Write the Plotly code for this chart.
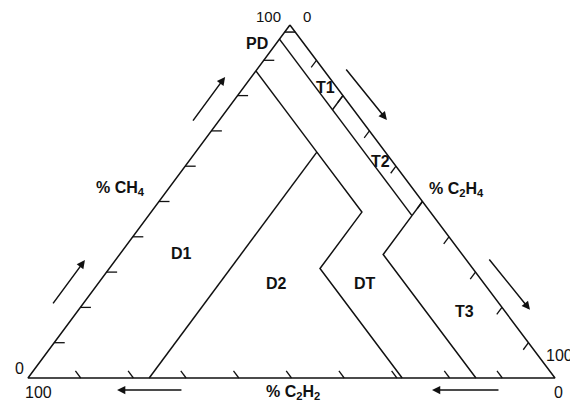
import plotly.graph_objects as go

# Duval triangle 1, every point is (CH4, C2H2, C2H4) in %
APEX_X = 0.497  # horizontal position of the CH4 corner, as a share of the base

EDGE = [(100, 0, 0), (0, 100, 0), (0, 0, 100), (100, 0, 0)]
PD_LINE = [(98, 2, 0), (98, 0, 2)]
T1_T2 = [(80, 0, 20), (76, 4, 20)]
C2H2_4 = [(96, 4, 0), (46, 4, 50)]
T2_T3 = [(50, 0, 50), (46, 4, 50)]
DT_T3 = [(46, 4, 50), (35, 15, 50), (0, 15, 85)]
D1_TOP = [(87, 13, 0), (64, 13, 23)]
D1_D2 = [(64, 13, 23), (0, 77, 23)]
D2_DT = [(64, 13, 23), (47, 13, 40), (31, 29, 40), (0, 29, 71)]

TICKS = [10, 20, 30, 40, 50, 60, 70, 80, 90]
TICK_LEN = 2

ZONE_NAMES = ["PD", "T1", "T2", "D1", "D2", "DT", "T3"]
AXIS_NAMES = ["% CH<sub>4</sub>", "% C<sub>2</sub>H<sub>4</sub>", "% C<sub>2</sub>H<sub>2</sub>"]
END_LABELS = ["100", "0", "0", "100", "0", "100"]


def to_xy(points):
    xs, ys = [], []
    for ch4, c2h2, c2h4 in points:
        total = ch4 + c2h2 + c2h4
        xs.append((ch4 * APEX_X + c2h4) / total)
        ys.append(ch4 / total)
    return xs, ys


def tick_segments():
    segs = []
    for t in TICKS:
        segs.append([(t, 100 - t, 0), (t, 100 - t - TICK_LEN, TICK_LEN)])
        segs.append([(100 - t, 0, t), (100 - t - TICK_LEN, TICK_LEN, t)])
        segs.append([(0, t, 100 - t), (TICK_LEN, t, 100 - t - TICK_LEN)])
    return segs


fig = go.Figure()
line_style = {"color": "#111111", "width": 1.5}
for pts in [EDGE, PD_LINE, T1_T2, C2H2_4, T2_T3, DT_T3, D1_TOP, D1_D2, D2_DT]:
    xs, ys = to_xy(pts)
    fig.add_trace(go.Scatter(x=xs, y=ys, mode="lines", line=line_style,
                             hoverinfo="skip", showlegend=False))

tx, ty = [], []
for seg in tick_segments():
    xs, ys = to_xy(seg)
    tx += xs + [None]
    ty += ys + [None]
fig.add_trace(go.Scatter(x=tx, y=ty, mode="lines", line={"color": "#111111", "width": 1.3},
                         hoverinfo="skip", showlegend=False))

font = "Liberation Sans, Arial, sans-serif"
bold = {"family": font, "size": 16, "color": "#111111", "weight": "bold"}
plain = {"family": font, "size": 16, "color": "#111111"}

zone_pos = [(0.4345, 0.949), (0.5636, 0.824), (0.668, 0.612), (0.292, 0.354),
            (0.4706, 0.269), (0.6395, 0.269), (0.829, 0.187)]
for name, (x, y) in zip(ZONE_NAMES, zone_pos):
    fig.add_annotation(x=x, y=y, text=name, showarrow=False, font=bold)

axis_pos = [(0.1746, 0.538), (0.814, 0.533), (0.503, -0.042)]
for name, (x, y) in zip(AXIS_NAMES, axis_pos):
    fig.add_annotation(x=x, y=y, text=name, showarrow=False, font=bold)

end_pos = [(0.4554, 1.0255), (0.5294, 1.0255), (-0.017, 0.028), (0.019, -0.040),
           (1.006, -0.040), (1.009, 0.065)]
for i, (name, (x, y)) in enumerate(zip(END_LABELS, end_pos)):
    f = dict(plain, size=15) if i < 2 else plain
    fig.add_annotation(x=x, y=y, text=name, showarrow=False, font=f, borderpad=0)

# direction arrows: (tail, head)
arrows = [((0.0455, 0.207), (0.108, 0.334)), ((0.311, 0.725), (0.374, 0.853)),
          ((0.6015, 0.878), (0.681, 0.731)), ((0.873, 0.340), (0.9526, 0.193)),
          ((0.294, -0.034), (0.169, -0.034)), ((0.8956, -0.034), (0.7666, -0.034))]
for (ax, ay), (x, y) in arrows:
    fig.add_annotation(x=x, y=y, ax=ax, ay=ay, xref="x", yref="y", axref="x", ayref="y",
                       text="", showarrow=True, arrowhead=2, arrowsize=1.1,
                       arrowwidth=1.5, arrowcolor="#111111")

# the page puts the figure 8px in from the top-left, so the ranges are shifted to match
fig.update_layout(
    width=578, height=403, autosize=False,
    margin={"l": 0, "r": 0, "t": 0, "b": 0},
    plot_bgcolor="white", paper_bgcolor="white",
    xaxis={"range": [-20 / 527, 558 / 527], "visible": False, "fixedrange": True},
    yaxis={"range": [-33 / 353, 370 / 353], "visible": False, "fixedrange": True},
)

fig.write_html("out.html")
